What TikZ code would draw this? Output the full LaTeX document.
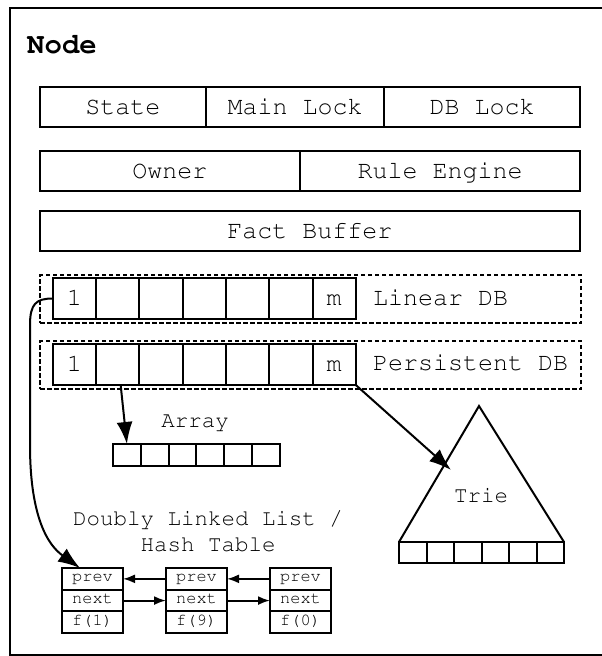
\documentclass[tikz,border=0pt]{standalone}
\usepackage[T1]{fontenc}
\usepackage{courier}
\usetikzlibrary{arrows.meta}
\tikzset{
  lbl/.style={font=\ttfamily\fontsize{25}{27}\selectfont},
  lblsmall/.style={font=\ttfamily\fontsize{22.5}{24}\selectfont, inner sep=0pt},
  field/.style={draw, line width=2pt, inner sep=0pt, outer sep=0pt,
    minimum height=40pt, anchor=north west, text height=14.5pt, text depth=0pt, lbl},
  dbcell/.style={draw, line width=2pt, inner sep=0pt, outer sep=0pt,
    minimum width=43.3pt, minimum height=41pt, anchor=north west,
    text height=14.5pt, text depth=0pt, lbl},
  dbframe/.style={draw, line width=1.5pt, dash pattern=on 4.5pt off 2.5pt,
    inner sep=0pt, outer sep=0pt, minimum width=541pt, minimum height=48pt,
    anchor=north west},
  tinycell/.style={draw, line width=2pt, inner sep=0pt, outer sep=0pt,
    minimum width=27.8pt, minimum height=22pt, anchor=north west},
  listcell/.style={draw, line width=2pt, inner sep=0pt, outer sep=0pt,
    minimum width=61pt, minimum height=21.7pt, anchor=north west,
    text height=8pt, text depth=2pt, font=\ttfamily\fontsize{17}{19}\selectfont},
  bigarr/.style={line width=2pt, -{Latex[length=22pt,width=16pt]}},
  smallarr/.style={line width=2pt, -{Latex[length=12pt,width=9pt]}}
}
\begin{document}
\begin{tikzpicture}[x=1pt,y=-1pt]
\useasboundingbox (0,0) rectangle (602,656);

% outer frame of the node record
\draw[line width=2pt] (9.5,8) rectangle (640,655);
\node[anchor=base west, inner sep=0pt,
  font=\ttfamily\bfseries\fontsize{29}{31}\selectfont] (title) at (27,53) {Node};

% header fields
\node[field, minimum width=166.5pt] (state) at (39.5,87) {State};
\node[field, minimum width=178pt] (mainlock) at (state.north east) {Main Lock};
\node[field, minimum width=196pt] (dblock) at (mainlock.north east) {DB Lock};

\node[field, minimum width=260.5pt] (owner) at (39.5,151) {Owner};
\node[field, minimum width=280pt] (rules) at (owner.north east) {Rule Engine};

\node[field, minimum width=540.5pt] (facts) at (39.5,211) {Fact Buffer};

% the two databases
\node[dbframe] (linframe) at (40,275) {};
\node[dbframe] (perframe) at (40,341) {};
\foreach \i/\t in {1/1,2/{},3/{},4/{},5/{},6/{},7/m} {
  \node[dbcell] (lin\i) at ({52.7+(\i-1)*43.3},278) {\t};
  \node[dbcell] (per\i) at ({52.7+(\i-1)*43.3},344) {\t};
}
\node[lbl, anchor=base west, inner sep=0pt] (lintxt) at (373,305) {Linear DB};
\node[lbl, anchor=base west, inner sep=0pt] (pertxt) at (373,370) {Persistent DB};

% array
\node[lblsmall, anchor=base] (arraytxt) at (195,427) {Array};
\foreach \i in {1,...,6}
  \node[tinycell] (arr\i) at ({113+(\i-1)*27.8},444) {};
\draw[bigarr] ([xshift=3pt]per2.south) -- (arr1.north);

% trie
\coordinate (tapex) at (479,406);
\coordinate (tleft) at (399,542);
\coordinate (tright) at (564,542);
\draw[line width=2pt, line join=miter] (tleft) -- (tapex) -- (tright);
\foreach \i in {1,...,6}
  \node[tinycell, minimum width=27.5pt, minimum height=21pt] (trie\i) at ({399+(\i-1)*27.5},542) {};
\node[lblsmall, anchor=base] (trietxt) at (481,502) {Trie};
\coordinate (trietip) at (451,470);
\draw[bigarr] (per7.south east) -- (trietip);

% doubly linked list
\node[lblsmall, anchor=base] (dll1) at (208,525) {Doubly Linked List /};
\node[lblsmall, anchor=base] (dll2) at (208,551) {Hash Table};
\foreach \n/\x/\v in {1/62/1, 2/166/9, 3/270/0} {
  \node[listcell] (p\n) at (\x,568) {prev};
  \node[listcell] (nx\n) at (\x,589.7) {next};
  \node[listcell] (f\n) at (\x,611.4) {f(\v)};
}
\draw[smallarr] (p2.west) -- (p1.east);
\draw[smallarr] (p3.west) -- (p2.east);
\draw[smallarr] (nx1.east) -- (nx2.west);
\draw[smallarr] (nx2.east) -- (nx3.west);

\draw[bigarr] (lin1.west) .. controls (36,298.5) and (30,304) .. (30,325)
  -- (30,445) .. controls (30,530) and (55,550) .. ([xshift=18pt]p1.north west);
\end{tikzpicture}
\end{document}
